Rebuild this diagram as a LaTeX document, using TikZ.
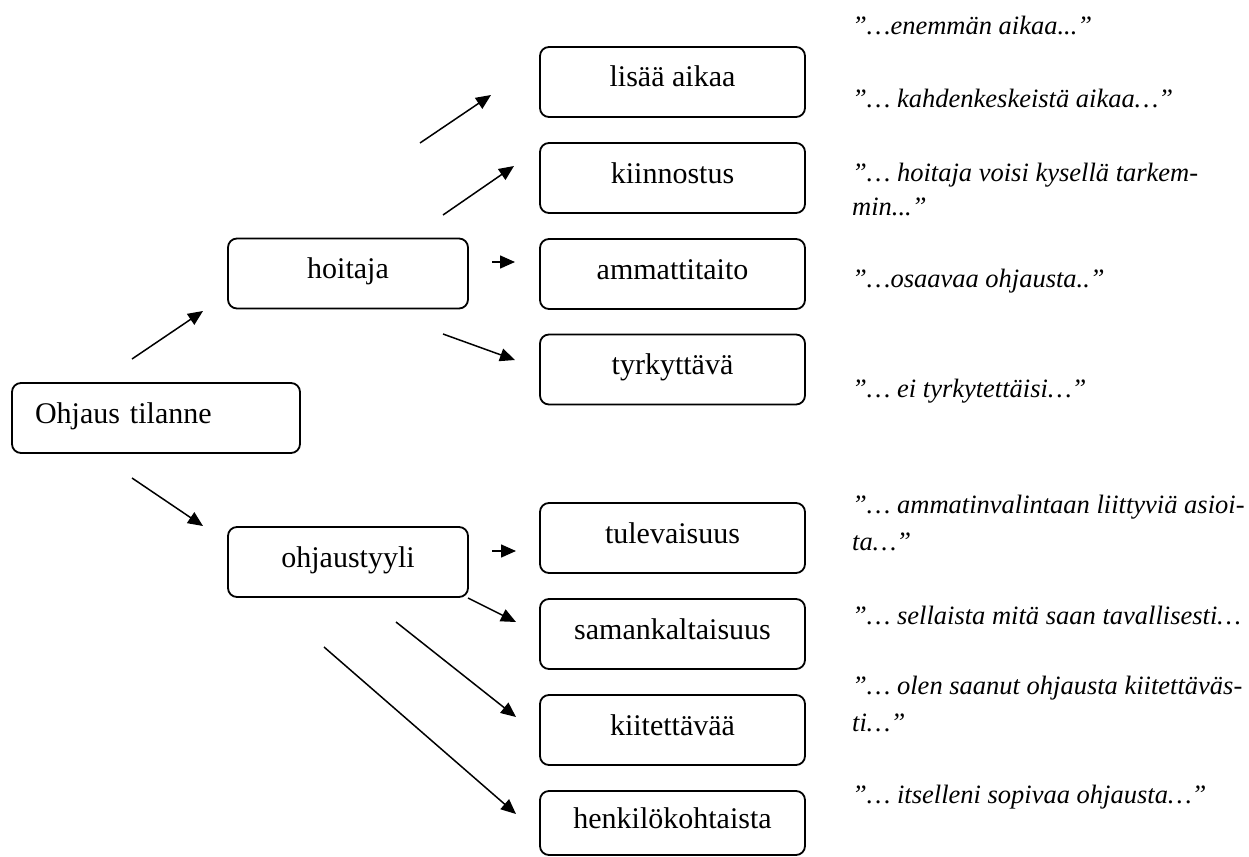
\documentclass[tikz,border=0pt]{standalone}
\usepackage{fontspec}
\setmainfont{Liberation Serif}
\usetikzlibrary{arrows.meta}
\tikzset{
  box/.style={draw, line width=1.8pt, rounded corners=9pt, inner sep=0pt,
    minimum height=70pt, text height=20pt, text depth=10pt,
    font=\fontsize{30}{36}\selectfont},
  rbox/.style={box, minimum width=265pt},
  mbox/.style={box, minimum width=240pt},
  quote/.style={anchor=base west, inner sep=0pt,
    font=\fontsize{26.5}{34}\selectfont\itshape},
  arr/.style={line width=1.5pt, -{Triangle[length=15pt,width=13pt]}}
}
\begin{document}
\begin{tikzpicture}[x=1pt,y=-1pt]
\useasboundingbox (0,0) rectangle (1249,856);
% boxes
\node[box, text width=242pt, align=left, inner xsep=23pt] (root) at (156,418) {Ohjaus tilanne};
\node[mbox] (hoit) at (348,273.5) {hoitaja};
\node[mbox] (ohj) at (348,562) {ohjaustyyli};
\node[rbox] (lisaa) at (672.5,82) {lisää aikaa};
\node[rbox] (kiin) at (672.5,178) {kiinnostus};
\node[rbox] (amm) at (672.5,274) {ammattitaito};
\node[rbox] (tyrk) at (672.5,369.5) {tyrkyttävä};
\node[rbox] (tul) at (672.5,538) {tulevaisuus};
\node[rbox] (sam) at (672.5,634) {samankaltaisuus};
\node[rbox] (kiit) at (672.5,730) {kiitettävää};
\node[rbox, minimum height=64pt] (henk) at (672.5,823) {henkilökohtaista};
% arrow end points
\coordinate (a1s) at (132,359); \coordinate (a1e) at (203,311);
\coordinate (a2s) at (420,143); \coordinate (a2e) at (491,95);
\coordinate (a3s) at (443,215); \coordinate (a3e) at (514,166);
\coordinate (a4s) at (492,262); \coordinate (a4e) at (515,262);
\coordinate (a5s) at (443,334); \coordinate (a5e) at (515,360);
\coordinate (a6s) at (132,478); \coordinate (a6e) at (203,526);
\coordinate (a7s) at (492,551); \coordinate (a7e) at (516,551);
\coordinate (a8s) at (468,598); \coordinate (a8e) at (516,622);
\coordinate (a9s) at (396,622); \coordinate (a9e) at (516,717);
\coordinate (a10s) at (324,647); \coordinate (a10e) at (516,814);
\draw[arr] (a1s) -- (a1e);
\draw[arr] (a2s) -- (a2e);
\draw[arr] (a3s) -- (a3e);
\draw[arr] (a4s) -- (a4e);
\draw[arr] (a5s) -- (a5e);
\draw[arr] (a6s) -- (a6e);
\draw[arr] (a7s) -- (a7e);
\draw[arr] (a8s) -- (a8e);
\draw[arr] (a9s) -- (a9e);
\draw[arr] (a10s) -- (a10e);
% quotes
\node[quote] (q1) at (852,35) {”…enemmän aikaa...”};
\node[quote] (q2) at (852,107) {”… kahdenkeskeistä aikaa…”};
\node[quote] (q3a) at (852,181) {”… hoitaja voisi kysellä tarkem-};
\node[quote] (q3b) at (852,215) {min...”};
\node[quote] (q4) at (852,287) {”…osaavaa ohjausta..”};
\node[quote] (q5) at (852,397) {”… ei tyrkytettäisi…”};
\node[quote] (q6a) at (852,513) {”… ammatinvalintaan liittyviä asioi-};
\node[quote] (q6b) at (852,550) {ta…”};
\node[quote] (q7) at (852,624) {”… sellaista mitä saan tavallisesti…};
\node[quote] (q8a) at (852,694) {”… olen saanut ohjausta kiitettäväs-};
\node[quote] (q8b) at (852,731) {ti…”};
\node[quote] (q9) at (852,803) {”… itselleni sopivaa ohjausta…”};
\end{tikzpicture}
\end{document}
